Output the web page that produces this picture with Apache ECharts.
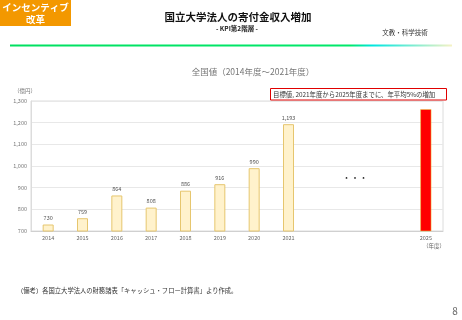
<!DOCTYPE html>
<html><head><meta charset="utf-8">
<script src="https://cdn.jsdelivr.net/npm/echarts@6/dist/echarts.min.js"></script>
<style>html,body{margin:0;padding:0;background:#fff}#c{width:462px;height:320px}</style>
</head><body><div id="c"></div>
<script>
const categories = ['2014','2015','2016','2017','2018','2019','2020','2021','2022','2023','2024','2025'];
const categoryLabels = ['2014','2015','2016','2017','2018','2019','2020','2021','','','','2025'];
const actualValues = [730, 759, 864, 808, 886, 916, 990, 1193, null, null, null, null];
const targetValues = [null, null, null, null, null, null, null, null, null, null, null, 1262];
const yTicks = { min: 700, max: 1300, interval: 100 };

const FONT = '"Noto Sans CJK JP", "Noto Sans", sans-serif';
const chart = echarts.init(document.getElementById('c'), null, {renderer: 'canvas'});
const fmt = v => v.toLocaleString('en-US');

chart.setOption({
  animation: false,
  textStyle: { fontFamily: FONT },
  grid: { left: 31, right: 19, top: 101, bottom: 89, show: true, borderColor: '#dcdcdc', borderWidth: 1, containLabel: false },
  xAxis: {
    type: 'category', data: categories,
    axisLine: { lineStyle: { color: '#d0d0d0' } },
    axisTick: { show: false },
    axisLabel: { fontSize: 5.5, color: '#666', margin: 4, formatter: (v, i) => categoryLabels[i] }
  },
  yAxis: {
    type: 'value', min: yTicks.min, max: yTicks.max, interval: yTicks.interval,
    axisLine: { show: true, lineStyle: { color: '#dcdcdc' } },
    axisTick: { show: false },
    splitLine: { lineStyle: { color: '#e8e8e8' } },
    axisLabel: { fontSize: 5.5, color: '#777', margin: 4, formatter: v => fmt(v) }
  },
  series: [
    {
      type: 'bar', data: actualValues, barWidth: 11, barGap: '-100%',
      itemStyle: { color: '#FFF2CC', borderColor: '#E6C66E', borderWidth: 1 },
      label: { show: true, position: 'top', fontSize: 5.5, color: '#555', distance: 4, formatter: p => fmt(p.value) }
    },
    {
      type: 'bar', data: targetValues, barWidth: 11,
      itemStyle: { color: '#FF0000', borderColor: '#E8D040', borderWidth: 0.5 }
    }
  ],
  graphic: [
    { type: 'rect', left: 0, top: 0, shape: { width: 71, height: 26 }, style: { fill: '#F39800' } },
    { type: 'text', x: 35.5, y: 7.5, style: { text: 'インセンティブ', fill: '#fff', font: 'bold 9.5px ' + FONT, align: 'center', verticalAlign: 'middle' } },
    { type: 'text', x: 35.5, y: 19, style: { text: '改革', fill: '#fff', font: 'bold 9.5px ' + FONT, align: 'center', verticalAlign: 'middle' } },
    { type: 'text', x: 238, y: 17, style: { text: '国立大学法人の寄付金収入増加', fill: '#111', font: 'bold 10.5px ' + FONT, align: 'center', verticalAlign: 'middle' } },
    { type: 'text', x: 237, y: 29, style: { text: '- KPI第2階層 -', fill: '#222', font: 'bold 6.5px ' + FONT, align: 'center', verticalAlign: 'middle' } },
    { type: 'text', x: 405, y: 33, style: { text: '文教・科学技術', fill: '#333', font: '6.5px ' + FONT, align: 'center', verticalAlign: 'middle' } },
    { type: 'rect', x: 10, y: 44.5, shape: { width: 442, height: 2 }, style: { fill: new echarts.graphic.LinearGradient(0, 0, 1, 0, [
      { offset: 0, color: '#00E060' }, { offset: 0.77, color: '#00E86A' }, { offset: 0.82, color: '#00E6E0' }, { offset: 1, color: '#F6F2C4' }
    ]) } },
    { type: 'text', x: 253, y: 72, style: { text: '全国値（2014年度～2021年度）', fill: '#777', font: '8.5px ' + FONT, align: 'center', verticalAlign: 'middle' } },
    { type: 'text', x: 25, y: 91, style: { text: '（億円）', fill: '#777', font: '5.5px ' + FONT, align: 'center', verticalAlign: 'middle' } },
    { type: 'text', x: 434, y: 246, style: { text: '（年度）', fill: '#666', font: '5.5px ' + FONT, align: 'center', verticalAlign: 'middle' } },
    { type: 'rect', x: 270.5, y: 88.5, shape: { width: 176, height: 11.5 }, style: { fill: '#fff', stroke: '#E00000', lineWidth: 1 } },
    { type: 'text', x: 273, y: 94.5, style: { text: '目標値, 2021年度から2025年度までに、年平均5%の増加', fill: '#333', font: '6.4px ' + FONT, align: 'left', verticalAlign: 'middle' } },
    { type: 'text', x: 355, y: 177, style: { text: '・ ・ ・', fill: '#222', font: 'bold 7px ' + FONT, align: 'center', verticalAlign: 'middle' } },
    { type: 'text', x: 17, y: 291, style: { text: '（備考）各国立大学法人の財務諸表「キャッシュ・フロー計算書」より作成。', fill: '#333', font: '6.3px ' + FONT, align: 'left', verticalAlign: 'middle' } },
    { type: 'text', x: 455, y: 311, style: { text: '8', fill: '#666', font: '10px ' + FONT, align: 'center', verticalAlign: 'middle' } }
  ]
});
</script></body></html>
